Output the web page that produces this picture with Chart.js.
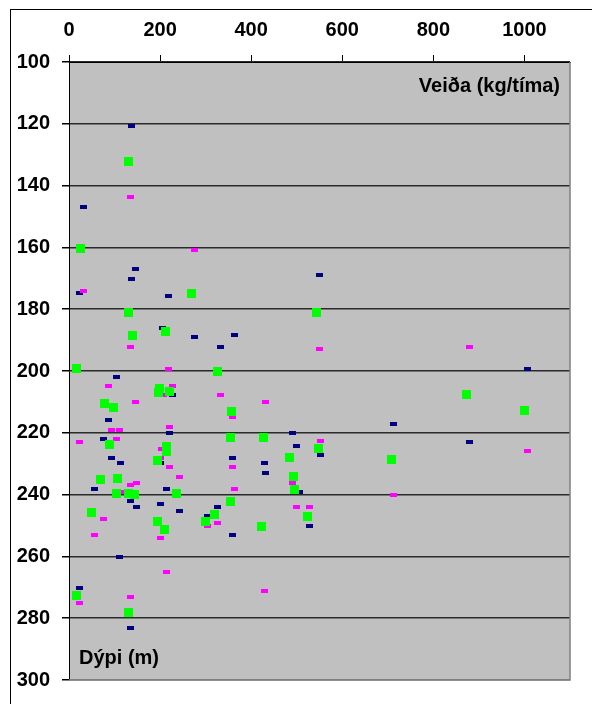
<!DOCTYPE html>
<html lang="is">
  <head>
    <meta charset="UTF-8" />
    <title>Veiða og dýpi</title>
    <script src="https://cdn.jsdelivr.net/npm/chart.js"></script>
    <style>
      body { margin: 0; background: #fff; }
    </style>
  </head>
  <body>
    <canvas id="myChart" width="592" height="704"></canvas>

    <script>
      // veiði (kg/tíma) á x-ás, dýpi (m) á y-ás
      const navyCatch = [137, 31, 146, 137, 22, 218, 550, 206, 275, 363, 333, 1006, 104, 227, 86, 713, 221, 490, 76, 880, 499, 553, 94, 200, 113, 360, 429, 432, 55, 215, 506, 136, 149, 200, 242, 327, 305, 360, 529, 110, 22, 136];
      const navyDepth = [120.8, 146.8, 167, 170.1, 174.9, 175.7, 168.8, 186, 189, 188.2, 192.1, 199.2, 202.1, 207.9, 215.9, 217.1, 220.2, 220.2, 222, 222.9, 224.2, 227.2, 228.2, 229.9, 229.9, 228.2, 229.8, 232.9, 238.2, 238.2, 239.2, 242.1, 243.9, 243, 245.2, 243.9, 246.9, 253.1, 250.1, 260.2, 270.3, 283.1];

      const pinkCatch = [136, 275, 31, 136, 550, 879, 218, 86, 227, 207, 333, 146, 432, 360, 94, 110, 221, 104, 22, 553, 203, 200, 1006, 221, 360, 243, 148, 136, 490, 363, 118, 713, 499, 529, 76, 305, 327, 200, 55, 215, 136, 22, 430];
      const pinkDepth = [143.7, 160.9, 174, 192.1, 193, 192.2, 199.2, 204.8, 204.8, 207.9, 207.9, 210.1, 210.1, 215, 219, 219, 218, 222, 222.9, 222.8, 225.1, 228.2, 226, 231.2, 231.2, 234.3, 236.1, 236.9, 236.1, 238.2, 239.3, 240, 243.9, 243.9, 247.9, 250.1, 249.3, 254, 253.1, 265, 273, 275.1, 271.2];

      const greenCatch = [130, 25, 269, 130, 544, 212, 139, 16, 327, 199, 197, 221, 873, 79, 97, 357, 1000, 354, 426, 89, 215, 215, 547, 195, 484, 707, 70, 107, 493, 104, 130, 144, 236, 496, 354, 49, 320, 523, 299, 194, 209, 423, 16, 130];
      const greenDepth = [132.3, 160.4, 174.9, 181.1, 181.1, 187.2, 188.6, 199.2, 200, 205.6, 207.1, 206.6, 207.5, 210.5, 211.9, 213.2, 212.7, 221.6, 221.5, 223.8, 224.5, 226.2, 225, 229, 228.1, 228.5, 235.2, 234.7, 234.3, 239.6, 239.6, 240, 239.6, 238.4, 242.1, 245.8, 246.6, 247, 248.7, 248.7, 251.4, 250.4, 272.5, 278.3];

      const xTitle = "Veiða (kg/tíma)";
      const yTitle = "Dýpi (m)";

      const pairs = (xs, ys) => xs.map((x, i) => ({ x: x, y: ys[i] }));

      // litlir kassar sem punktar
      function marker(w, h, color) {
        const c = document.createElement("canvas");
        c.width = w;
        c.height = h;
        const g = c.getContext("2d");
        g.fillStyle = color;
        g.fillRect(0, 0, w, h);
        return c;
      }

      const FONT = "'Liberation Sans', Arial, sans-serif";

      const frame = {
        id: "frame",
        beforeDraw(chart) {
          const { ctx, chartArea: a } = chart;
          ctx.save();
          ctx.fillStyle = "#c0c0c0";
          ctx.fillRect(a.left, a.top, a.right - a.left, a.bottom - a.top);
          ctx.strokeStyle = "#000";
          ctx.lineWidth = 1;
          ctx.strokeRect(10.5, 9.5, 800, 900);
          ctx.restore();
        },
        beforeDatasetsDraw(chart) {
          const { ctx, chartArea: a } = chart;
          ctx.save();
          ctx.strokeStyle = "#808080";
          ctx.lineWidth = 1.5;
          ctx.beginPath();
          ctx.moveTo(a.right, a.top);
          ctx.lineTo(a.right, a.bottom);
          ctx.lineTo(a.left, a.bottom);
          ctx.stroke();
          ctx.restore();
        },
        afterDraw(chart) {
          const { ctx, chartArea: a } = chart;
          ctx.save();
          ctx.fillStyle = "#000";
          ctx.font = "bold 20px " + FONT;
          ctx.textBaseline = "alphabetic";
          ctx.textAlign = "right";
          ctx.fillText(xTitle, a.right - 10, a.top + 30);
          ctx.textAlign = "left";
          ctx.fillText(yTitle, a.left + 10, a.bottom - 16);
          ctx.restore();
        },
      };

      const config = {
        type: "scatter",
        data: {
          datasets: [
            {
              label: "grænt",
              data: pairs(greenCatch, greenDepth),
              pointStyle: marker(9, 9, "#00ff00"),
            },
            {
              label: "bleikt",
              data: pairs(pinkCatch, pinkDepth),
              pointStyle: marker(7, 4, "#ff00ff"),
            },
            {
              label: "blátt",
              data: pairs(navyCatch, navyDepth),
              pointStyle: marker(7, 4, "#000080"),
            },
          ],
        },
        options: {
          responsive: false,
          animation: false,
          layout: { padding: { left: 0, top: 0, right: 22, bottom: 14 } },
          plugins: {
            legend: { display: false },
            tooltip: { enabled: false },
          },
          scales: {
            x: {
              type: "linear",
              position: "top",
              min: 0,
              max: 1100,
              afterFit: (s) => { s.height = 62; },
              ticks: {
                stepSize: 200,
                includeBounds: false,
                maxRotation: 0,
                padding: 13,
                color: "#000",
                font: { family: FONT, size: 20, weight: "bold" },
                callback: (v) => String(v),
              },
              grid: {
                drawOnChartArea: false,
                drawTicks: true,
                tickLength: 7,
                tickColor: "#000",
              },
              border: { display: true, color: "#000", width: 1 },
            },
            y: {
              type: "linear",
              reverse: true,
              min: 100,
              max: 300,
              afterFit: (s) => { s.width = 69; },
              ticks: {
                stepSize: 20,
                padding: 12,
                color: "#000",
                font: { family: FONT, size: 20, weight: "bold" },
                callback: (v) => String(v),
              },
              grid: {
                color: (c) => (c.tick && c.tick.value === 300 ? "#808080" : "#2a2a2a"),
                lineWidth: 1.5,
                drawTicks: true,
                tickLength: 7,
                tickColor: "#000",
              },
              border: { display: true, color: "#000", width: 1 },
            },
          },
        },
        plugins: [frame],
      };

      const ctx = document.getElementById("myChart");
      new Chart(ctx, config);
    </script>
  </body>
</html>
